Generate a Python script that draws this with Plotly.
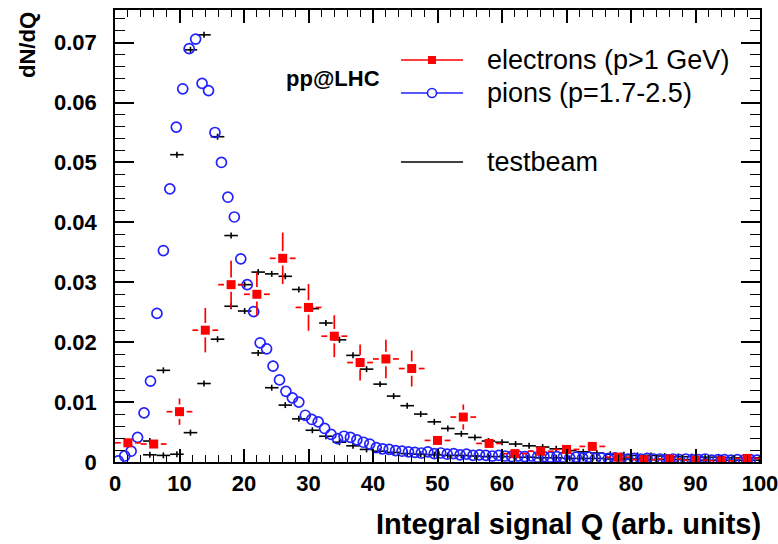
import numpy as np
import plotly.graph_objects as go

# ---------------- data ----------------
# pions: 1-unit bins, centers 0.5 ... 99.5
pion_q = list(np.arange(0.5, 100.0, 1.0))
pion_dndq = [
    0.0002, 0.0010, 0.0018, 0.0041, 0.0082, 0.0135, 0.0248, 0.0353, 0.0456, 0.0559,
    0.0623, 0.0690, 0.0706, 0.0632, 0.0620, 0.0550, 0.0500, 0.0442, 0.0409, 0.0339,
    0.0296, 0.0251, 0.0199, 0.0189, 0.0160, 0.0137, 0.0118, 0.0107, 0.0100, 0.0078,
    0.0071, 0.0067, 0.0056, 0.0046, 0.0039, 0.0043, 0.0041, 0.0037, 0.0033, 0.0030,
    0.0024, 0.0022, 0.0021, 0.0019, 0.0018, 0.0017, 0.0016, 0.0015, 0.0017, 0.0014,
    0.0015, 0.0013, 0.0014, 0.0012, 0.0013, 0.0011, 0.0012, 0.0011, 0.0010, 0.0011,
    0.0010, 0.0009, 0.0010, 0.0009, 0.0010, 0.0008, 0.0009, 0.0008, 0.0009, 0.0008,
    0.0007, 0.0008, 0.0007, 0.0008, 0.0006, 0.0007, 0.0006, 0.0007, 0.0006, 0.0005,
    0.0006, 0.0005, 0.0006, 0.0005, 0.0005, 0.0004, 0.0005, 0.0004, 0.0005, 0.0004,
    0.0004, 0.0005, 0.0003, 0.0004, 0.0004, 0.0003, 0.0004, 0.0003, 0.0004, 0.0003,
]

# electrons: 4-unit bins
ele_q = [2, 6, 10, 14, 18, 22, 26, 30, 34, 38, 42, 46, 50, 54, 58, 62, 66, 70,
         74, 78, 82, 86, 90, 94, 98]
ele_dndq = [0.0032, 0.0030, 0.0084, 0.0220, 0.0296, 0.0280, 0.0340, 0.0258, 0.0210,
            0.0166, 0.0172, 0.0156, 0.0036, 0.0075, 0.0031, 0.0014, 0.0018, 0.0021,
            0.0026, 0.0008, 0.0004, 0.0005, 0.0003, 0.0002, 0.0006]
ele_err = [0.0008, 0.0008, 0.0022, 0.0037, 0.0040, 0.0036, 0.0043, 0.0039, 0.0035,
           0.0030, 0.0032, 0.0030, 0.0012, 0.0021, 0.0012, 0.0008, 0.0009, 0.0010,
           0.0011, 0.0006, 0.0004, 0.0004, 0.0003, 0.0003, 0.0004]
ele_halfwidth = 2.0

# testbeam (pions and electrons), common bins
tb_q = [5.4, 7.5, 9.6, 11.7, 13.8, 15.9, 18.0, 20.1, 22.2, 24.3, 26.4, 28.5, 30.6,
        32.7, 34.8, 36.9, 39.0, 41.1, 43.2, 45.3, 47.4, 49.5, 51.6, 53.7, 55.8,
        57.9, 60.0, 62.1, 64.2, 66.3, 68.4, 70.5, 72.6, 74.7, 76.8, 78.9, 81.0,
        83.1, 85.2, 87.3, 89.4, 91.5, 93.6, 95.7, 97.8, 99.9]
tb_pi = [0.0035, 0.0153, 0.0513, 0.0688, 0.0713, 0.0543, 0.0378, 0.0252, 0.0182,
         0.0124, 0.0095, 0.0072, 0.0053, 0.0043, 0.0033, 0.0027, 0.0021, 0.0018,
         0.0016, 0.0014, 0.0013, 0.0012, 0.0011, 0.0011, 0.0010, 0.0009, 0.0009,
         0.0008, 0.0008, 0.0007, 0.0007, 0.0006, 0.0006, 0.0006, 0.0005, 0.0005,
         0.0005, 0.0004, 0.0004, 0.0004, 0.0004, 0.0003, 0.0003, 0.0003, 0.0003,
         0.0003]
tb_e = [0.0012, 0.0011, 0.0013, 0.0049, 0.0131, 0.0205, 0.0260, 0.0296, 0.0317,
        0.0314, 0.0310, 0.0288, 0.0256, 0.0232, 0.0204, 0.0178, 0.0155, 0.0130,
        0.0110, 0.0094, 0.0080, 0.0067, 0.0056, 0.0047, 0.0041, 0.0035, 0.0033,
        0.0030, 0.0027, 0.0025, 0.0022, 0.0019, 0.0017, 0.0015, 0.0013, 0.0012,
        0.0011, 0.0011, 0.0010, 0.0009, 0.0009, 0.0008, 0.0008, 0.0007, 0.0007,
        0.0007]
tb_err = 0.0005
tb_halfwidth = 1.05

x_ticks = [0, 10, 20, 30, 40, 50, 60, 70, 80, 90, 100]
y_ticks = [0, 0.01, 0.02, 0.03, 0.04, 0.05, 0.06, 0.07]
y_tick_text = ["0", "0.01", "0.02", "0.03", "0.04", "0.05", "0.06", "0.07"]

# ---------------- styling ----------------
FONT = "Liberation Sans"
RED = "#ff0000"
BLUE = "#2222ff"

fig = go.Figure()

# testbeam as error-bar crosses
for ys in (tb_pi, tb_e):
    fig.add_trace(go.Scatter(
        x=tb_q, y=ys, mode="markers",
        marker=dict(size=1, color="black"),
        error_x=dict(type="constant", value=tb_halfwidth, width=0, thickness=1.6, color="black"),
        error_y=dict(type="constant", value=tb_err, width=0, thickness=1.6, color="black"),
        showlegend=False, hoverinfo="skip"))

# pions
fig.add_trace(go.Scatter(
    x=pion_q, y=pion_dndq, mode="markers",
    marker=dict(symbol="circle-open", size=10, color=BLUE, line=dict(width=1.7, color=BLUE)),
    showlegend=False, hoverinfo="skip"))

# electrons: ROOT-style error bars with a gap round the marker
gap_x = 1.1
gap_y = 0.0012
sx, sy = [], []
for q, v, e in zip(ele_q, ele_dndq, ele_err):
    sx += [q - ele_halfwidth, q - gap_x, None, q + gap_x, q + ele_halfwidth, None]
    sy += [v, v, None, v, v, None]
    if e > gap_y:
        sx += [q, q, None, q, q, None]
        sy += [v - e, v - gap_y, None, v + gap_y, v + e, None]
fig.add_trace(go.Scatter(x=sx, y=sy, mode="lines", line=dict(color=RED, width=1.7),
                         showlegend=False, hoverinfo="skip"))
fig.add_trace(go.Scatter(
    x=ele_q, y=ele_dndq, mode="markers",
    marker=dict(symbol="square", size=9, color=RED),
    showlegend=False, hoverinfo="skip"))

# ---------------- layout ----------------
L, R, T, B = 115, 18, 10, 82
W, H = 778, 544
PW, PH = W - L - R, H - T - B


def px(xp):
    return (xp - L) / PW


def py(yp):
    return (H - B - yp) / PH


tickfont = dict(family=FONT, size=22, color="black", weight="bold")
fig.update_layout(
    width=W, height=H,
    margin=dict(l=L, r=R, t=T, b=B, autoexpand=False),
    plot_bgcolor="white", paper_bgcolor="white",
    showlegend=False,
    xaxis=dict(range=[0, 100], tickvals=x_ticks, ticks="inside", ticklen=13, tickwidth=1.5,
               tickcolor="black", showline=True, linewidth=1.6, linecolor="black",
               mirror="ticks", showgrid=False, zeroline=False, tickfont=tickfont,
               ticklabelstandoff=1, ticklabeloverflow="allow", automargin=False,
               minor=dict(ticks="inside", ticklen=7, dtick=2, tick0=0, tickwidth=1.2,
                          tickcolor="black", showgrid=False)),
    yaxis=dict(range=[0, 0.07545], tickvals=y_ticks, ticktext=y_tick_text, ticks="inside",
               ticklen=19, tickwidth=1.5, tickcolor="black", showline=True, linewidth=1.6,
               linecolor="black", mirror="ticks", showgrid=False, zeroline=False,
               tickfont=tickfont, ticklabelstandoff=12, ticklabeloverflow="allow",
               automargin=False,
               minor=dict(ticks="inside", ticklen=10, dtick=0.002, tick0=0, tickwidth=1.2,
                          tickcolor="black", showgrid=False)),
)

ann = []
ann.append(dict(text="Integral signal Q (arb. units)", x=px(763), y=py(524), xref="paper",
                yref="paper", xanchor="right", yanchor="middle", showarrow=False,
                font=dict(family=FONT, size=29, color="black", weight="bold")))
ann.append(dict(text="dN/dQ", x=px(27), y=py(10), xref="paper", yref="paper",
                xanchor="center", yanchor="top", textangle=-90, showarrow=False,
                font=dict(family=FONT, size=22, color="black", weight="bold")))
ann.append(dict(text="pp@LHC", x=px(382), y=py(78), xref="paper", yref="paper",
                xanchor="right", yanchor="middle", showarrow=False,
                font=dict(family=FONT, size=22, color="black", weight="bold")))

legend_items = [("electrons (p>1 GeV)", RED, 60), ("pions (p=1.7-2.5)", BLUE, 93),
                ("testbeam", "black", 162)]
shapes = []
for label, col, yp in legend_items:
    ann.append(dict(text=label, x=px(485), y=py(yp), xref="paper", yref="paper",
                    xanchor="left", yanchor="middle", showarrow=False,
                    font=dict(family=FONT, size=27, color="black")))
    shapes.append(dict(type="line", xref="paper", yref="paper", x0=px(401), x1=px(463),
                       y0=py(yp), y1=py(yp), line=dict(color=col, width=1.7)))
# legend glyphs
shapes.append(dict(type="rect", xref="paper", yref="paper", x0=px(428), x1=px(436),
                   y0=py(64), y1=py(56), fillcolor=RED, line=dict(width=0)))
shapes.append(dict(type="circle", xref="paper", yref="paper", x0=px(427.5), x1=px(436.5),
                   y0=py(97.5), y1=py(88.5), fillcolor="white",
                   line=dict(color=BLUE, width=1.6)))

fig.update_layout(annotations=ann, shapes=shapes)

fig.write_html("out.html")
